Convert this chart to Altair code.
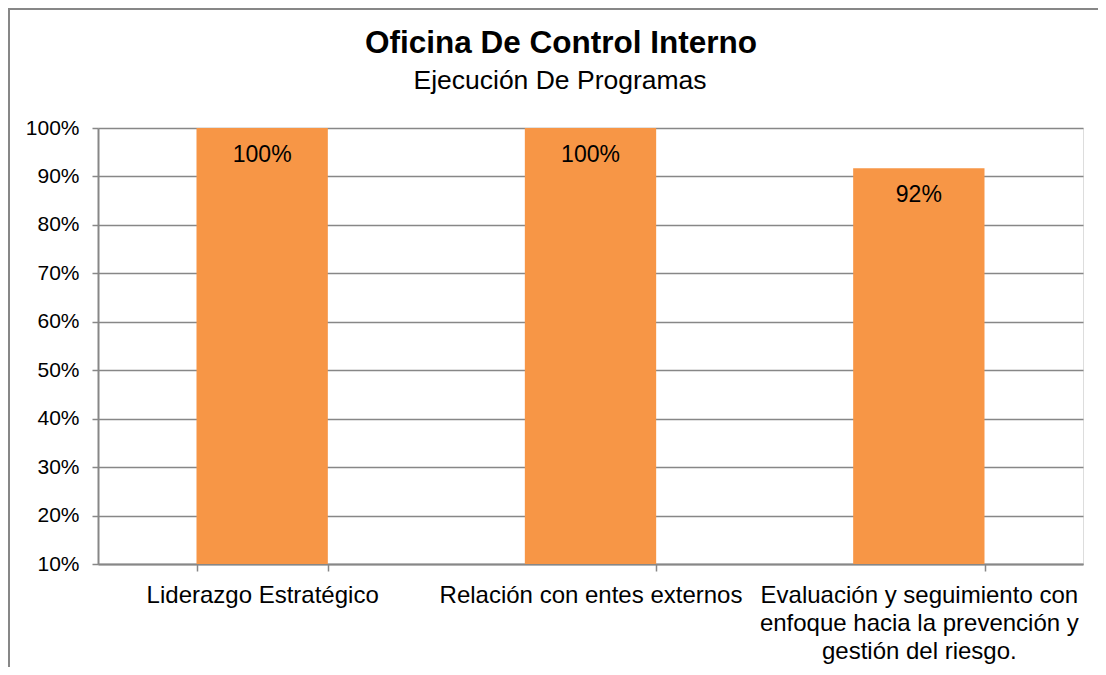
import altair as alt
import pandas as pd

categories = [
    "Liderazgo Estratégico",
    "Relación con entes externos",
    "Evaluación y seguimiento con\nenfoque hacia la prevención y\ngestión del riesgo.",
]
values = [1.0, 1.0, 0.9167]
labels = ["100%", "100%", "92%"]
y_ticks = [0.1, 0.2, 0.3, 0.4, 0.5, 0.6, 0.7, 0.8, 0.9, 1.0]
title_text = "Oficina De Control Interno"
subtitle_text = "Ejecución De Programas"

df = pd.DataFrame({"cat": categories, "val": values, "lab": labels})

FONT = "Liberation Sans"
GRAY = "#878787"

x = alt.X(
    "cat:N",
    sort=categories,
    title=None,
    scale=alt.Scale(paddingInner=0.6, paddingOuter=0.3),
    axis=alt.Axis(
        labelAngle=0,
        labelExpr="datum.value ? split(datum.value, '\\n') : ''",
        labelFontSize=24,
        labelLineHeight=28,
        labelFont=FONT,
        labelColor="black",
        labelPadding=12,
        labelLimit=400,
        tickBand="extent",
        tickSize=7,
        tickColor=GRAY,
        tickWidth=1.5,
        domainColor=GRAY,
        domainWidth=2,
        grid=False,
    ),
)

bars = alt.Chart(df).mark_bar(color="#F79646").encode(
    x=x,
    y=alt.Y(
        "val:Q",
        title=None,
        scale=alt.Scale(domain=[0.1, 1.0], nice=False, zero=False),
        axis=alt.Axis(
            values=y_ticks,
            format=".0%",
            labelFontSize=21,
            labelFont=FONT,
            labelColor="black",
            labelPadding=13,
            tickSize=6,
            tickColor=GRAY,
            tickWidth=1.5,
            domainColor=GRAY,
            domainWidth=2,
            gridColor=GRAY,
            gridWidth=1.5,
        ),
    ),
    y2=alt.datum(0.1),
)

text = alt.Chart(df).mark_text(
    baseline="middle", dy=27, fontSize=23, font=FONT, color="black"
).encode(x=alt.X("cat:N", sort=categories), y="val:Q", text="lab:N")

one = pd.DataFrame({"a": [0]})

border = alt.Chart(one).mark_rect(
    fillOpacity=0, stroke=GRAY, strokeWidth=2
).encode(
    x=alt.value(-89), x2=alt.value(1300), y=alt.value(-119), y2=alt.value(900)
)

title_mark = alt.Chart(one).mark_text(
    fontSize=31.5, fontWeight="bold", font=FONT, color="black", align="center",
    baseline="alphabetic",
).encode(x=alt.value(463), y=alt.value(-75), text=alt.value(title_text))

subtitle_mark = alt.Chart(one).mark_text(
    fontSize=26.5, font=FONT, color="black", align="center", baseline="alphabetic",
).encode(x=alt.value(462), y=alt.value(-39), text=alt.value(subtitle_text))

chart = (
    alt.layer(border, bars, text, title_mark, subtitle_mark)
    .properties(
        width=985,
        height=436,
        autosize=alt.AutoSizeParams(type="none"),
        padding={"left": 90, "top": 120, "right": 15, "bottom": 103},
    )
    .configure_view(stroke=None)
    .configure(background="white")
)

chart.save("out.html", embed_options={"renderer": "svg", "actions": False})
